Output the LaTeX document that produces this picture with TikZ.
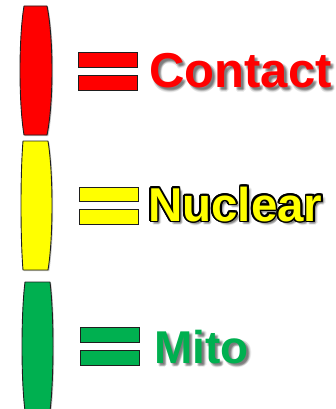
\documentclass[tikz,border=0pt]{standalone}
\usepackage{fontspec}
\setmainfont{Liberation Sans}
\definecolor{ctred}{HTML}{FF0000}
\definecolor{ncyellow}{HTML}{FFFF00}
\definecolor{mtgreen}{HTML}{00B050}
\definecolor{edge}{HTML}{1E1E1E}

\newfontfamily\legendfont{Liberation Sans}[BoldFont=* Bold]

\tikzset{
  x=1pt, y=-1pt,
  legend text/.style={anchor=base west, inner sep=0pt},
  soft shadow/.style={legend text, text=black, opacity=0.07},
  bar/.style={draw=edge, line width=0.8pt, fill=#1},
  bar shadow/.style={fill=black, opacity=0.22},
  barrel/.style={draw=edge, line width=0.9pt, fill=#1, line join=round},
}

% barrel-shaped swatch: colour, top, bottom, top-left x, top-right x, mid-left x, mid-right x
\newcommand\swatch[7]{%
  \pgfmathsetmacro\cl{#6-(#4-#6)/3}%
  \pgfmathsetmacro\cr{#7+(#7-#5)/3}%
  \pgfmathsetmacro\ya{#2+(#3-#2)/4}%
  \pgfmathsetmacro\yb{#3-(#3-#2)/4}%
  \fill[black, opacity=0.22, xshift=1.2pt, yshift=-1.2pt]
    (#4,#2) -- (#5,#2) .. controls (\cr,\ya) and (\cr,\yb) .. (#5,#3)
    -- (#4,#3) .. controls (\cl,\yb) and (\cl,\ya) .. (#4,#2) -- cycle;
  \draw[barrel=#1]
    (#4,#2) -- (#5,#2) .. controls (\cr,\ya) and (\cr,\yb) .. (#5,#3)
    -- (#4,#3) .. controls (\cl,\yb) and (\cl,\ya) .. (#4,#2) -- cycle;
}

% the "=" sign: colour, left, right, top bar top, top bar bottom, lower bar top, lower bar bottom
\newcommand\equalsign[7]{%
  \fill[bar shadow, xshift=1.2pt, yshift=-1.2pt] (#2,#4) rectangle (#3,#5);
  \fill[bar shadow, xshift=1.2pt, yshift=-1.2pt] (#2,#6) rectangle (#3,#7);
  \draw[bar=#1] (#2,#4) rectangle (#3,#5);
  \draw[bar=#1] (#2,#6) rectangle (#3,#7);
}

% blurred drop shadow behind a word: anchor coordinate, font, text
\newcommand\wordshadow[3]{%
  \foreach \dx/\dy in {1.5/1.5,2.5/2.5,3.5/3.5,2/3,3/2,1.5/3.5,3.5/1.5,2.5/4.5,4.5/2.5,3/3}{%
    \node[soft shadow, font=#2, xshift=\dx pt, yshift=-\dy pt] at (#1) {#3};
  }%
}

\begin{document}
\begin{tikzpicture}
  \useasboundingbox (0,0) rectangle (336,409);

  % colour swatches
  \swatch{ctred}{6}{135}{24}{47}{20}{52}
  \swatch{ncyellow}{141}{270}{23}{48}{21}{52}
  \swatch{mtgreen}{282}{411}{25}{50}{22}{53}

  % equals signs
  \equalsign{ctred}{78}{137}{52}{67}{75}{90}
  \equalsign{ncyellow}{79}{138}{187}{201}{209}{224}
  \equalsign{mtgreen}{80}{139}{327}{342}{350}{365}

  % text anchors (baselines)
  \coordinate (contactpos) at (149,88);
  \coordinate (nuclearpos) at (148,221);
  \coordinate (mitopos) at (154,363);

  % Contact
  \wordshadow{contactpos}{\legendfont\bfseries\fontsize{49}{49}\selectfont}{Contact}
  \node[legend text, text=ctred, font=\legendfont\bfseries\fontsize{49}{49}\selectfont]
    (contact) at (contactpos) {Contact};

  % Nuclear, outlined in black
  \wordshadow{nuclearpos}{\legendfont\bfseries\fontsize{47.5}{47.5}\selectfont}{Nuclear}
  \foreach \a in {0,22.5,...,337.5}{%
    \node[legend text, text=black, font=\legendfont\bfseries\fontsize{47.5}{47.5}\selectfont,
          xshift={1.7*cos(\a)}, yshift={1.7*sin(\a)}] at (nuclearpos) {Nuclear};
  }
  \node[legend text, text=ncyellow, font=\legendfont\bfseries\fontsize{47.5}{47.5}\selectfont]
    (nuclear) at (nuclearpos) {Nuclear};

  % Mito
  \wordshadow{mitopos}{\legendfont\bfseries\fontsize{46}{46}\selectfont}{Mito}
  \node[legend text, text=mtgreen, font=\legendfont\bfseries\fontsize{46}{46}\selectfont]
    (mito) at (mitopos) {Mito};
\end{tikzpicture}
\end{document}
